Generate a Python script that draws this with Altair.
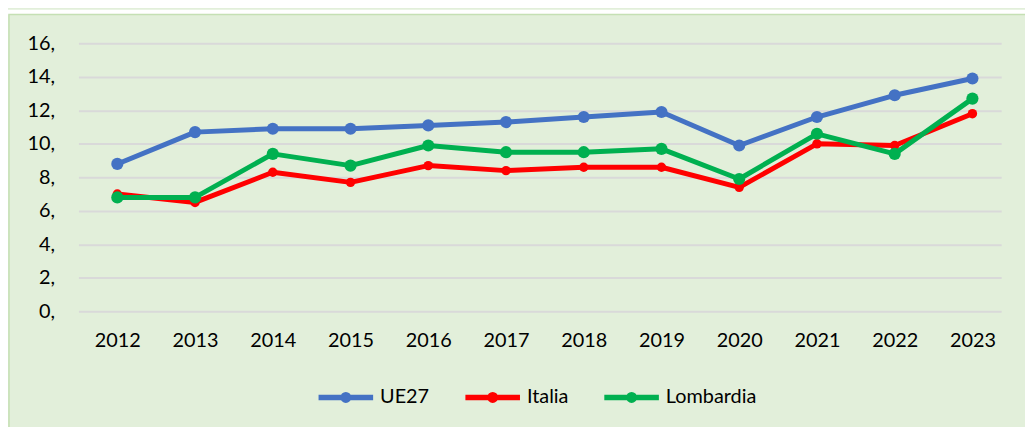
import altair as alt
import pandas as pd

years = [2012, 2013, 2014, 2015, 2016, 2017, 2018, 2019, 2020, 2021, 2022, 2023]
ue27 = [8.8, 10.7, 10.9, 10.9, 11.1, 11.3, 11.6, 11.9, 9.9, 11.6, 12.9, 13.9]
italia = [7.0, 6.5, 8.3, 7.7, 8.7, 8.4, 8.6, 8.6, 7.4, 10.0, 9.9, 11.8]
lombardia = [6.8, 6.8, 9.4, 8.7, 9.9, 9.5, 9.5, 9.7, 7.9, 10.6, 9.4, 12.7]
series_names = ["UE27", "Italia", "Lombardia"]
series_colors = ["#4472C4", "#FF0000", "#00B050"]
y_ticks = [0, 2, 4, 6, 8, 10, 12, 14, 16]

rows = []
for name, vals in zip(series_names, [ue27, italia, lombardia]):
    for y, v in zip(years, vals):
        rows.append({"year": y, "value": v, "series": name})
df = pd.DataFrame(rows)

FONT = "Lato"
W, H = 930, 270
PL, PT, PR, PB = 71, 34, 24, 115

legend_path = "M-1,0H1M0.1,0A0.1,0.1,0,1,1,-0.1,0A0.1,0.1,0,1,1,0.1,0"

x_enc = alt.X("year:Q", title=None,
              scale=alt.Scale(domain=[2011.5, 2023.37], nice=False, zero=False),
              axis=alt.Axis(values=years, format="d", labelAngle=0, ticks=False,
                            domain=False, grid=False, labelPadding=20,
                            labelFontSize=20, labelColor="#000000", labelFont=FONT))
y_enc = alt.Y("value:Q", title=None,
              scale=alt.Scale(domain=[0, 16], nice=False),
              axis=alt.Axis(values=y_ticks, ticks=False, domain=False, grid=True,
                            gridColor="#D9D9D9", gridWidth=2,
                            labelExpr="datum.label + ','", labelPadding=24,
                            labelFontSize=20, labelColor="#000000", labelFont=FONT))
color_enc = alt.Color("series:N",
                      scale=alt.Scale(domain=series_names, range=series_colors),
                      legend=alt.Legend(title=None, orient="none", direction="horizontal",
                                        legendX=239, legendY=326,
                                        symbolType=legend_path, symbolSize=3025,
                                        symbolStrokeWidth=5.5, labelOffset=4,
                                        columnPadding=25, labelFontSize=20,
                                        labelColor="#000000", labelFont=FONT))

base = alt.Chart(df)
layers = []
sizes = {"UE27": 150, "Italia": 90, "Lombardia": 150}
for name in series_names:
    sub = base.transform_filter(alt.datum.series == name)
    line = sub.mark_line(strokeWidth=5, strokeCap="round", strokeJoin="round").encode(
        x=x_enc, y=y_enc, color=color_enc)
    pts = sub.mark_point(filled=True, opacity=1, size=sizes[name]).encode(
        x=x_enc, y=y_enc, color=alt.Color("series:N",
                                          scale=alt.Scale(domain=series_names, range=series_colors),
                                          legend=None))
    layers += [line, pts]

deco_data = alt.Data(values=[{"k": 1}])
top_strip = alt.Chart(deco_data).mark_rect(color="white").encode(
    x=alt.value(-PL), x2=alt.value(W + PR), y=alt.value(-PT), y2=alt.value(-29))
border = alt.Chart(deco_data).mark_rect(fill=None, stroke="#C5E0B4", strokeWidth=1.5).encode(
    x=alt.value(-PL + 1), x2=alt.value(W + PR + 5), y=alt.value(-29), y2=alt.value(H + PB + 5))

chart = alt.layer(top_strip, border, *layers).properties(
    width=W, height=H,
    autosize=alt.AutoSizeParams(type="none"),
    padding={"left": PL, "top": PT, "right": PR, "bottom": PB},
    background="#E2EFDA",
).configure_view(stroke=None).configure_legend(symbolStrokeWidth=5.5)

chart.save("out.html", embed_options={"renderer": "svg", "actions": False})
